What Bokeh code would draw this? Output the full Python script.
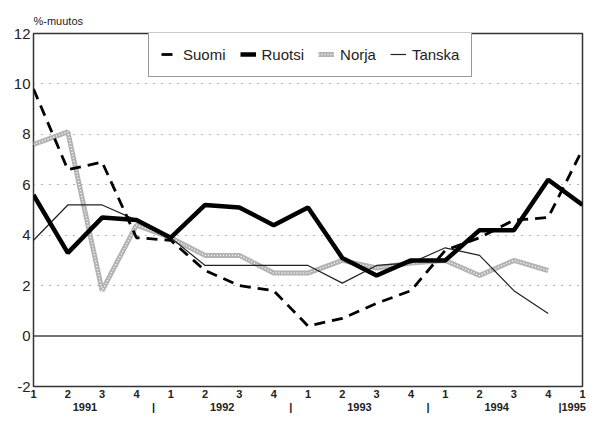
from bokeh.plotting import figure
from bokeh.models import Range1d, FixedTicker, LinearAxis, Span, Legend, LegendItem
from bokeh.embed import file_html
from bokeh.resources import INLINE

# ---- data ----
quarter_labels = ["1", "2", "3", "4"]
years = ["1991", "1992", "1993", "1994", "1995"]
unit_label = "%-muutos"
suomi = [9.8, 6.6, 6.9, 3.9, 3.8, 2.6, 2.0, 1.8, 0.4, 0.7, 1.3, 1.8, 3.4, 3.9, 4.6, 4.7, 7.4]
ruotsi = [5.6, 3.3, 4.7, 4.6, 3.9, 5.2, 5.1, 4.4, 5.1, 3.1, 2.4, 3.0, 3.0, 4.2, 4.2, 6.2, 5.2]
norja = [7.6, 8.1, 1.8, 4.4, 3.9, 3.2, 3.2, 2.5, 2.5, 3.0, 2.7, 2.9, 3.0, 2.4, 3.0, 2.6]
tanska = [3.8, 5.2, 5.2, 4.6, 3.9, 2.8, 2.8, 2.8, 2.8, 2.1, 2.8, 2.9, 3.5, 3.2, 1.8, 0.9]
y_ticks = [-2, 0, 2, 4, 6, 8, 10, 12]
y_tick_labels = ["-2", "0", "2", "4", "6", "8", "10", "12"]

FONT = "Liberation Sans"
W, H = 586, 416
B_LEFT, B_RIGHT, B_TOP, B_BOTTOM = 33, 4, 33, 30
LEG_H = 44
n = len(suomi)
x = list(range(n))

p = figure(width=W, height=H, output_backend="svg", toolbar_location=None,
           x_range=Range1d(0, n - 1), y_range=Range1d(y_ticks[0], y_ticks[-1]),
           min_border_left=B_LEFT, min_border_right=B_RIGHT,
           min_border_top=B_TOP, min_border_bottom=B_BOTTOM,
           background_fill_color="white", border_fill_color="white")

p.title.text = unit_label
p.title.text_font = FONT
p.title.text_font_size = "11px"
p.title.text_font_style = "normal"
p.title.text_color = "#222222"
p.title.align = "left"
p.title.standoff = 14

p.outline_line_color = "#333333"
p.outline_line_width = 1.5

# y axis
p.yaxis.ticker = FixedTicker(ticks=y_ticks)
p.yaxis.major_label_overrides = {t: l for t, l in zip(y_ticks, y_tick_labels)}
p.yaxis.major_label_text_font = FONT
p.yaxis.major_label_text_font_size = "15px"
p.yaxis.major_label_text_color = "#222222"
p.yaxis.major_tick_line_color = None
p.yaxis.minor_tick_line_color = None
p.yaxis.major_tick_out = 0
p.yaxis.minor_tick_out = 0
p.yaxis.axis_line_color = None
p.yaxis.major_label_standoff = 3

# x axis: quarters
p.xaxis.ticker = FixedTicker(ticks=x)
p.xaxis.major_label_overrides = {i: quarter_labels[i % 4] for i in x}
p.xaxis.major_label_text_font = FONT
p.xaxis.major_label_text_font_size = "11px"
p.xaxis.major_label_text_font_style = "bold"
p.xaxis.major_label_text_color = "#222222"
p.xaxis.major_tick_line_color = None
p.xaxis.minor_tick_line_color = None
p.xaxis.major_tick_out = 0
p.xaxis.minor_tick_out = 0
p.xaxis.axis_line_color = None
p.xaxis.major_label_standoff = 3

# x axis: years with separators
yt, yl = [], []
for i, yname in enumerate(years[:-1]):
    yt.append(4 * i + 1.5)
    yl.append(yname)
    if i < len(years) - 2:
        yt.append(4 * i + 3.5)
        yl.append("|")
yt.append(n - 1 - 0.3)
yl.append("|" + years[-1])
year_axis = LinearAxis(ticker=FixedTicker(ticks=yt),
                       major_label_overrides={t: l for t, l in zip(yt, yl)},
                       major_label_text_font=FONT, major_label_text_font_size="11px",
                       major_label_text_font_style="bold", major_label_text_color="#222222",
                       major_tick_line_color=None, minor_tick_line_color=None,
                       major_tick_out=0, minor_tick_out=0,
                       axis_line_color=None, major_label_standoff=0)
p.add_layout(year_axis, "below")

# grid
p.xgrid.visible = False
p.ygrid.ticker = FixedTicker(ticks=y_ticks[2:-1])
p.ygrid.grid_line_color = "#666666"
p.ygrid.grid_line_dash = "1 7"
p.ygrid.grid_line_width = 1.2

p.add_layout(Span(location=0, dimension="width", line_color="#444444", line_width=1.5))

# lines
r_nor = p.line(x[:len(norja)], norja, line_color="#b3b3b3", line_width=5)
r_nor2 = p.line(x[:len(norja)], norja, line_color="white", line_width=1.4, line_dash="1 2")
r_tan = p.line(x[:len(tanska)], tanska, line_color="#222222", line_width=1.2)
r_ruo = p.line(x, ruotsi, line_color="black", line_width=4.5)
r_suo = p.line(x, suomi, line_color="black", line_width=2.8, line_dash="11 7")

frame_h = H - B_TOP - B_BOTTOM
legend = Legend(items=[LegendItem(label="Suomi", renderers=[r_suo]),
                       LegendItem(label="Ruotsi", renderers=[r_ruo]),
                       LegendItem(label="Norja", renderers=[r_nor, r_nor2]),
                       LegendItem(label="Tanska", renderers=[r_tan])],
                orientation="horizontal", location=(115, frame_h - LEG_H),
                border_line_color="#333333", border_line_width=1.2,
                background_fill_color="white", background_fill_alpha=1.0,
                label_text_font=FONT, label_text_font_size="15px", label_text_color="#222222",
                glyph_width=16, glyph_height=12, label_height=20, label_standoff=6,
                spacing=14, padding=12, margin=0)
p.add_layout(legend)

open("out.html", "w").write(file_html(p, INLINE))
